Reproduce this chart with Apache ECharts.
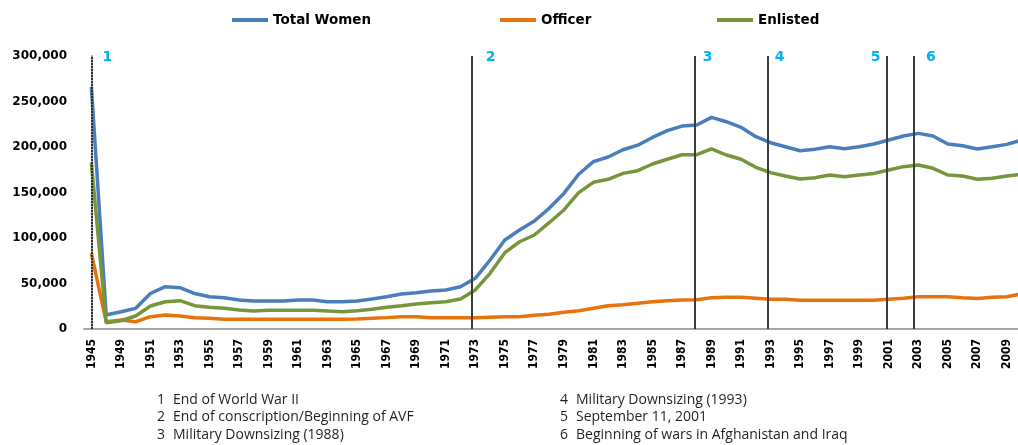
<!DOCTYPE html>
<html>
<head>
<meta charset="utf-8">
<script src="https://cdn.jsdelivr.net/npm/echarts@6/dist/echarts.min.js"></script>
<style>
html,body{margin:0;padding:0;background:#fff;}
#chart{width:1018px;height:445px;}
</style>
</head>
<body>
<div id="chart"></div>
<script>
var years = ['1945','1948','1949','1950','1951','1952','1953','1954','1955','1956','1957','1958','1959','1960','1961','1962','1963','1964','1965','1966','1967','1968','1969','1970','1971','1972','1973','1974','1975','1976','1977','1978','1979','1980','1981','1982','1983','1984','1985','1986','1987','1988','1989','1990','1991','1992','1993','1994','1995','1996','1997','1998','1999','2000','2001','2002','2003','2004','2005','2006','2007','2008','2009','2010'];

var totalWomen = [266000,15400,19000,22700,39000,46500,45400,39000,35500,34400,31900,30800,30800,30800,31900,31900,30000,30000,30800,33000,35500,38500,39900,41800,42900,46500,55700,75800,97800,108800,118700,132600,149000,170000,184000,189000,197000,202000,210500,218000,223000,224200,232600,227800,221600,211300,204700,200300,195900,197500,200300,198100,200300,203300,207700,212100,215000,212100,203300,201400,197800,200300,202900,207700];

var officer = [83200,8000,9900,8000,13500,15400,14300,12400,11700,10600,10600,10600,10600,10600,10600,10600,10600,10600,11000,11700,12500,13500,13500,12400,12400,12400,12400,13000,13500,13500,15000,16100,18400,20100,22700,25600,26700,28200,30000,31000,31900,32200,34300,34800,34800,33700,32600,32600,31500,31500,31500,31500,31500,31500,32600,33700,35500,35500,35500,34400,33500,34800,35500,38500];

var enlisted = [182700,6900,9100,14300,25300,30000,31100,25600,23800,22700,20900,19800,20500,20500,20500,20500,19800,19000,20100,21600,23800,25600,27500,28900,30000,33000,42900,61200,83900,95900,103300,116800,130800,149800,161200,164500,171000,174000,181300,186500,191500,191500,198000,191200,186500,177700,171800,168100,164800,166300,169200,167400,169200,171000,174700,178400,180200,176600,169200,168100,164500,165600,168100,170000];

// event markers: number, position (in years, fractional where the drawn line sits between years)
var eventNums = ['1','2','3','4','5','6'];
var eventYears = [1945, 1972.75, 1987.85, 1992.8, 2000.85, 2002.7];
var eventTexts = ['End of World War II','End of conscription/Beginning of AVF','Military Downsizing (1988)','Military Downsizing (1993)','September 11, 2001','Beginning of wars in Afghanistan and Iraq'];

function yearToIndex(y){ return y < 1948 ? (y - 1945) : (y - 1947); }

var labelOffsets = [[16,13],[19,13],[13,13],[12,13],[-11,13],[17,13]];

var chart = echarts.init(document.getElementById('chart'));

var markData = eventNums.map(function(n,i){
  var item = {
    xAxis: yearToIndex(eventYears[i]),
    label: {show:true, position:'end', formatter:n, offset:labelOffsets[i], color:'#00B0F0', fontWeight:'bold', fontSize:14, fontFamily:'DejaVu Sans'}
  };
  if (i === 0) item.lineStyle = {type:[2,1], color:'#2E2E2E', width:2};
  return item;
});

var legendText = {fontFamily:'DejaVu Sans', fontWeight:'bold', fontSize:13.5, color:'#000'};
function mkLegend(name, left){
  return {data:[name], left:left, top:13, padding:0, icon:'rect', itemWidth:36, itemHeight:4, textStyle:legendText, itemGap:4};
}

var graphics = [];
eventNums.forEach(function(n,i){
  var col = i < 3 ? 0 : 1;
  var row = i % 3;
  var x0 = col === 0 ? 157 : 560;
  var y0 = 403 + row*17.5;
  graphics.push({type:'text', left:x0, top:y0-10, style:{text:n, font:'14px "Open Sans"', fill:'#231F20'}});
  graphics.push({type:'text', left:x0+16, top:y0-10, style:{text:eventTexts[i], font:'14px "Open Sans"', fill:'#231F20'}});
});

var option = {
  animation:false,
  backgroundColor:'#fff',
  legend:[mkLegend('Total Women',232), mkLegend('Officer',500), mkLegend('Enlisted',717)],
  grid:{left:84, top:56, bottom:116, width:945, containLabel:false, outerBoundsMode:'none'},
  xAxis:[{
    type:'category', data:years, boundaryGap:true,
    axisLine:{show:true, lineStyle:{color:'#A6A6A6', width:2}},
    axisTick:{show:false},
    axisLabel:{interval:1, rotate:90, margin:10, fontFamily:'"Liberation Sans Narrow","DejaVu Sans Condensed",sans-serif', fontWeight:'bold', fontSize:12, color:'#000'},
    splitLine:{show:false}
  },{
    type:'value', min:-0.5, max:63.5, show:false, splitLine:{show:false}
  }],
  yAxis:{
    type:'value', min:0, max:300000, interval:50000,
    axisLine:{show:true, lineStyle:{color:'#A6A6A6', width:2}},
    axisTick:{show:false},
    splitLine:{show:false},
    axisLabel:{margin:17, fontFamily:'DejaVu Sans', fontWeight:'bold', fontSize:12, color:'#000',
      formatter:function(v){ return v.toLocaleString('en-US'); }}
  },
  series:[
    {name:'Total Women', type:'line', data:totalWomen, showSymbol:false, symbol:'none', lineStyle:{width:3.5, color:'#4A7EBB'}, itemStyle:{color:'#4A7EBB'}, z:3},
    {name:'Officer', type:'line', data:officer, showSymbol:false, symbol:'none', lineStyle:{width:3.5, color:'#E8720C'}, itemStyle:{color:'#E8720C'}, z:3},
    {name:'Enlisted', type:'line', data:enlisted, showSymbol:false, symbol:'none', lineStyle:{width:3.5, color:'#77963C'}, itemStyle:{color:'#77963C'}, z:3},
    {name:'events', type:'line', xAxisIndex:1, data:[], silent:true,
      markLine:{symbol:['none','none'], silent:true, animation:false,
        lineStyle:{color:'#3C3C3C', width:2, type:'solid'},
        data:markData}, z:4}
  ],
  graphic:graphics
};
chart.setOption(option);
</script>
</body>
</html>
